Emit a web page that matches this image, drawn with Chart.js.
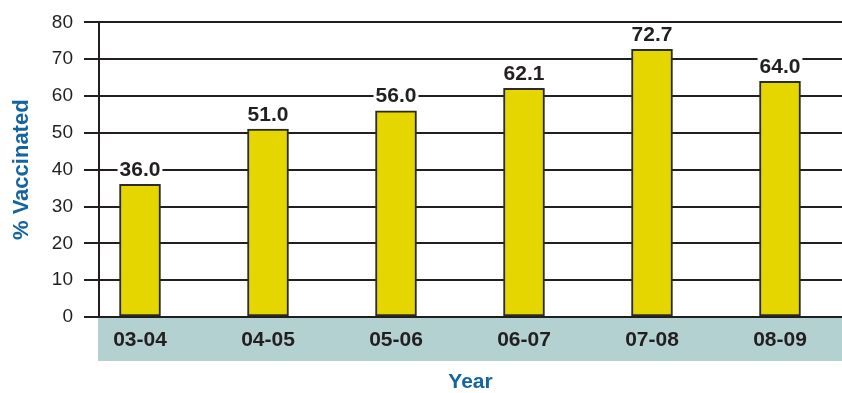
<!DOCTYPE html>
<html>
<head>
<meta charset="utf-8">
<script src="https://cdn.jsdelivr.net/npm/chart.js@4/dist/chart.umd.min.js"></script>
<style>
  html, body { margin: 0; padding: 0; background: #fff; }
  canvas { display: block; }
</style>
</head>
<body>
<canvas id="vaxChart" width="842" height="393"></canvas>
<script>
// Flu vaccination coverage by season
const years = ["03-04", "04-05", "05-06", "06-07", "07-08", "08-09"];
const vaccinated = [36.0, 51.0, 56.0, 62.1, 72.7, 64.0];
const yTicks = [0, 10, 20, 30, 40, 50, 60, 70, 80];

const INK = "#231f20";
const BLUE = "#14649f";
const FONT = "'Liberation Sans', Arial, Helvetica, sans-serif";

// teal band behind the year labels
const yearBand = {
  id: "yearBand",
  beforeDraw(chart) {
    const { ctx, chartArea } = chart;
    ctx.save();
    ctx.fillStyle = "#b3d1d1";
    ctx.fillRect(chartArea.left - 1, chartArea.bottom, chart.width - chartArea.left + 1, 44);
    ctx.restore();
  }
};

// value labels above the bars, on a white patch that breaks the grid lines
const valueLabels = {
  id: "valueLabels",
  afterDatasetsDraw(chart) {
    const { ctx } = chart;
    const meta = chart.getDatasetMeta(0);
    ctx.save();
    ctx.font = "bold 21px " + FONT;
    ctx.textAlign = "center";
    ctx.textBaseline = "alphabetic";
    meta.data.forEach((bar, i) => {
      const txt = vaccinated[i].toFixed(1);
      const w = ctx.measureText(txt).width;
      const base = bar.y - 8.5;
      ctx.fillStyle = "#fff";
      ctx.fillRect(bar.x - w / 2 - 2, base - 17, w + 4, 19);
      ctx.fillStyle = INK;
      ctx.fillText(txt, bar.x, base);
    });
    ctx.restore();
  }
};

const ctx = document.getElementById("vaxChart").getContext("2d");
new Chart(ctx, {
  type: "bar",
  data: {
    datasets: [{
      data: vaccinated.map((v, i) => ({ x: i, y: v })),
      backgroundColor: "#e5d600",
      borderColor: "#2b2b2b",
      borderWidth: 2,
      borderSkipped: false,
      barThickness: 41
    }]
  },
  options: {
    responsive: false,
    animation: false,
    layout: { padding: { top: 22, right: 0, bottom: 0, left: 0 } },
    plugins: {
      legend: { display: false },
      tooltip: { enabled: false }
    },
    scales: {
      x: {
        type: "linear",
        offset: false,
        min: -0.3203,
        max: 5.4844,
        grid: { display: false },
        border: { display: false },
        afterBuildTicks: (scale) => { scale.ticks = years.map((_, i) => ({ value: i })); },
        afterFit: (scale) => { scale.height = 76; },
        ticks: {
          autoSkip: false,
          maxRotation: 0,
          padding: 3,
          color: INK,
          font: { family: FONT, size: 21, weight: "bold" },
          callback: (v) => years[v]
        },
        title: {
          display: true,
          text: "Year",
          color: BLUE,
          padding: { top: 0, bottom: -2 },
          font: { family: FONT, size: 21, weight: "bold" }
        }
      },
      y: {
        min: 0,
        max: 80,
        afterBuildTicks: (scale) => { scale.ticks = yTicks.map((v) => ({ value: v })); },
        afterFit: (scale) => { scale.width = 99; },
        grid: { color: INK, lineWidth: 2, tickLength: 15 },
        border: { color: INK, width: 2 },
        ticks: {
          padding: 11,
          color: INK,
          font: { family: FONT, size: 19 }
        },
        title: {
          display: true,
          text: "% Vaccinated",
          color: BLUE,
          padding: { top: 9, bottom: 0 },
          font: { family: FONT, size: 22, weight: "bold" }
        }
      }
    }
  },
  plugins: [yearBand, valueLabels]
});
</script>
</body>
</html>
